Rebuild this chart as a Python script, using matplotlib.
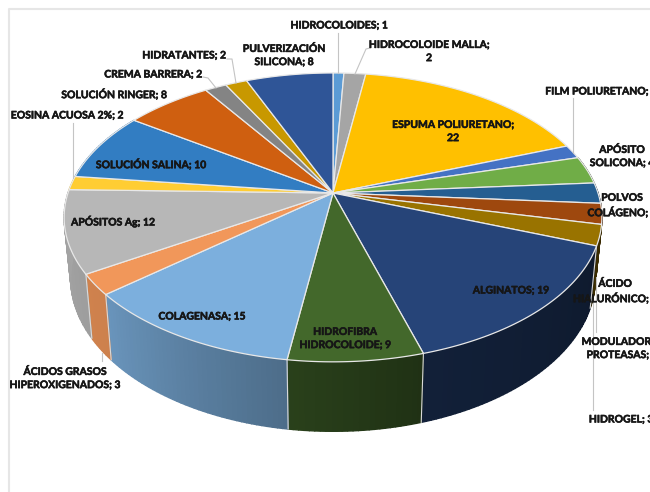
import numpy as np
import matplotlib
matplotlib.use("Agg")
import matplotlib.pyplot as plt
import matplotlib.patheffects as pe
from matplotlib.colors import to_rgb
from matplotlib.patches import Polygon

# ======================================================
# DATA
# ======================================================
products = ["HIDROCOLOIDES", "HIDROCOLOIDE MALLA", "ESPUMA POLIURETANO", "FILM POLIURETANO",
            "APÓSITO SOLICONA", "POLVOS COLÁGENO", "ÁCIDO HIALURÓNICO", "MODULADORES PROTEASAS",
            "HIDROGEL", "ALGINATOS", "HIDROFIBRA HIDROCOLOIDE", "COLAGENASA",
            "ÁCIDOS GRASOS HIPEROXIGENADOS", "APÓSITOS Ag", "EOSINA ACUOSA 2%", "SOLUCIÓN SALINA",
            "SOLUCIÓN RINGER", "CREMA BARRERA", "HIDRATANTES", "PULVERIZACIÓN SILICONA"]
counts = [1, 2, 22, 2, 4, 3, 3, 0, 3, 19, 9, 15, 3, 12, 2, 10, 8, 2, 2, 8]
colors = ["#5B9BD5", "#A5A5A5", "#FFC000", "#4472C4", "#70AD47", "#255E91", "#9E480E", "#636363",
          "#997300", "#264478", "#43682B", "#7CAFDD", "#F1975A", "#B7B7B7", "#FFCD33", "#327DC2",
          "#CF5F10", "#848484", "#C89800", "#2F5597"]

# line break used in each label, and where its centre sits (pixels)
label_text = ["HIDROCOLOIDES; {}", "HIDROCOLOIDE MALLA;\n{}", "ESPUMA POLIURETANO;\n{}",
              "FILM POLIURETANO; {}", "APÓSITO\nSOLICONA; {}", "POLVOS\nCOLÁGENO; {}",
              "ÁCIDO\nHIALURÓNICO; {}", "MODULADORES\nPROTEASAS; {}", "HIDROGEL; {}",
              "ALGINATOS; {}", "HIDROFIBRA\nHIDROCOLOIDE; {}", "COLAGENASA; {}",
              "ÁCIDOS GRASOS\nHIPEROXIGENADOS; {}", "APÓSITOS Ag; {}", "EOSINA ACUOSA 2%; {}",
              "SOLUCIÓN SALINA; {}", "SOLUCIÓN RINGER; {}", "CREMA BARRERA; {}",
              "HIDRATANTES; {}", "PULVERIZACIÓN\nSILICONA; {}"]
label_x = [339, 429, 453, 601, 622, 622, 615, 622, 621, 511, 345, 202, 65, 113, 67, 151, 114, 153, 184, 284]
label_y = [26, 52, 132, 92, 157, 206, 292, 349, 420, 291, 339, 317, 379, 222, 116, 165, 95, 75, 56, 56]

# ======================================================
# PROJECTION OF THE DISC
# ======================================================
cx = 333.0
top_y, top_rx, top_ry, top_k = 193.0, 265.0, 140.3, 0.169
bot_y, bot_rx, bot_ry, bot_k = 252.0, 258.6, 149.0, 0.169


def rim(theta_deg, base_y, rx, ry, k):
    t = np.radians(theta_deg)
    w = 1 + k * np.cos(t)
    return cx + rx * np.sin(t) / w, base_y - ry * np.cos(t) / w


def top_rim(theta_deg):
    return rim(theta_deg, top_y, top_rx, top_ry, top_k)


def bot_rim(theta_deg):
    return rim(theta_deg, bot_y, bot_rx, bot_ry, bot_k)


def wall_shade(theta_deg):
    return np.interp(theta_deg, [90, 110, 163, 188, 230, 270], [0.35, 0.38, 0.47, 0.62, 0.85, 0.90])


edges = np.cumsum([0] + counts) / sum(counts) * 360.0

fig = plt.figure(figsize=(6.5, 4.92), dpi=100)
ax = fig.add_axes([0, 0, 1, 1])
ax.set_xlim(0, 650)
ax.set_ylim(492, 0)
ax.axis("off")

# chart frame
ax.plot([8.5, 8.5, 650], [492, 8.5, 8.5], color="#e6e6e6", lw=1.5, zorder=0)

# ======================================================
# SIDE WALL
# ======================================================
for i, col in enumerate(colors):
    a0, a1 = edges[i], edges[i + 1]
    if a1 <= a0 or a1 < 80 or a0 > 280:
        continue
    steps = np.linspace(a0, a1, max(2, int(a1 - a0) + 2))
    base = np.array(to_rgb(col))
    for s0, s1 in zip(steps[:-1], steps[1:]):
        x0, y0 = top_rim(s0)
        x1, y1 = top_rim(s1)
        x2, y2 = bot_rim(s1)
        x3, y3 = bot_rim(s0)
        shade = base * wall_shade((s0 + s1) / 2)
        ax.add_patch(Polygon([(x0, y0), (x1, y1), (x2, y2), (x3, y3)], closed=True,
                             facecolor=shade, edgecolor=shade, lw=1.0, zorder=1))

for a in edges:
    if 105 < a < 262:
        x0, y0 = top_rim(a)
        x1, y1 = bot_rim(a)
        ax.plot([x0, x1], [y0, y1], color="#d9d9d9", lw=0.8, zorder=2)

# ======================================================
# TOP FACE
# ======================================================
for i, col in enumerate(colors):
    a0, a1 = edges[i], edges[i + 1]
    if a1 <= a0:
        continue
    xs, ys = top_rim(np.linspace(a0, a1, 60))
    pts = np.column_stack([np.r_[cx, xs], np.r_[top_y, ys]])
    ax.add_patch(Polygon(pts, closed=True, facecolor=col, edgecolor="#e8e8e8", lw=0.9, zorder=3))

# ======================================================
# LEADER LINES
# ======================================================
leaders = [([338, 338], [33, 73]),
           ([370, 366, 355], [48, 49, 74]),
           ([573, 573], [98, 153]),
           ([596, 596], [277, 332]),
           ([593, 593], [300, 410]),
           ([102, 102], [353, 361]),
           ([73, 73], [123, 178]),
           ([203, 208, 216], [77, 78, 88]),
           ([227, 232, 236], [59, 59, 83])]
for lx, ly in leaders:
    ax.plot(lx, ly, color="#c4c4c4", lw=0.8, zorder=4)

# ======================================================
# LABELS
# ======================================================
for txt, n, x, y in zip(label_text, counts, label_x, label_y):
    t = ax.text(x, y, txt.format(n), ha="center", va="center", family="Lato", weight="bold",
                fontsize=7.5, color="#161616", linespacing=1.6, zorder=5)
    # slightly heavier strokes than plain Lato Bold
    t.set_path_effects([pe.withStroke(linewidth=0.4, foreground="#161616")])

fig.savefig("out.png", dpi=100)
